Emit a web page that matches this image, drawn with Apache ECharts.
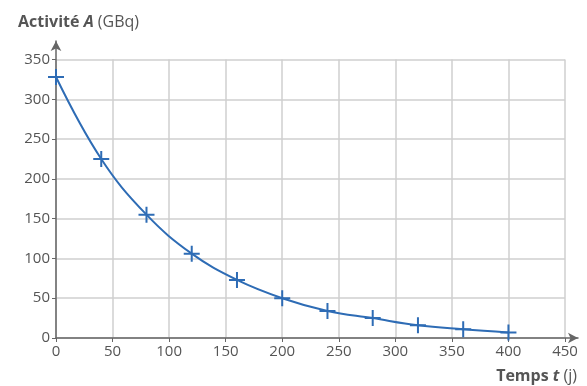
<!DOCTYPE html>
<html><head><meta charset="utf-8">
<script src="https://cdn.jsdelivr.net/npm/echarts@6/dist/echarts.min.js"></script>
<style>html,body{margin:0;padding:0;background:#fff}#c{width:587px;height:386px}</style>
</head><body><div id="c"></div>
<script>
const times = [0, 40, 80, 120, 160, 200, 240, 280, 320, 360, 400];
const activity = [328, 225, 155, 106, 73, 50, 34, 25, 16, 11, 7];
const xTicks = [0, 50, 100, 150, 200, 250, 300, 350, 400, 450];
const yTicks = [0, 50, 100, 150, 200, 250, 300, 350];

const FONT = '"Open Sans", "Noto Sans", sans-serif';
const TXT = '#555';
const chart = echarts.init(document.getElementById('c'));
const cross = 'path://M7,0h2v7h7v2h-7v7h-2v-7h-7v-2h7z';
const rich = (fs) => ({
  b: {fontWeight: 'bold', fontSize: fs, color: TXT, fontFamily: FONT},
  bi: {fontWeight: 'bold', fontStyle: 'italic', fontSize: fs, color: TXT, fontFamily: FONT},
  n: {fontSize: fs, color: TXT, fontFamily: FONT}
});

chart.setOption({
  animation: false,
  grid: [
    {left: 56, right: 22, top: 59.5, bottom: 48, containLabel: false, outerBoundsMode: 'none'},
    {left: 56, right: 9, top: 41, bottom: 48, containLabel: false, outerBoundsMode: 'none'}
  ],
  xAxis: [
    {gridIndex: 0, type: 'value', min: xTicks[0], max: xTicks[xTicks.length-1], interval: 50,
     axisLine: {show: false},
     axisTick: {show: true, length: 4, lineStyle: {color: '#666'}},
     axisLabel: {color: TXT, fontSize: 15, fontFamily: FONT, margin: 6},
     splitLine: {show: true, lineStyle: {color: '#cfcfcf', width: 1.5}}},
    {gridIndex: 1, type: 'value', min: 0, max: 1,
     axisLine: {show: true, symbol: ['none', 'arrow'], symbolSize: [8, 10], lineStyle: {color: '#666', width: 1.5}},
     axisTick: {show: false}, axisLabel: {show: false}, splitLine: {show: false},
     name: '{b|Temps }{bi|t}{n| (j)}', nameLocation: 'end', nameGap: 0,
     nameTextStyle: {align: 'right', verticalAlign: 'top', padding: [30, 1, 0, 0], rich: rich(16)}}
  ],
  yAxis: [
    {gridIndex: 0, type: 'value', min: yTicks[0], max: yTicks[yTicks.length-1], interval: 50,
     axisLine: {show: false},
     axisTick: {show: true, length: 4, lineStyle: {color: '#666'}},
     axisLabel: {color: TXT, fontSize: 15, fontFamily: FONT, margin: 6},
     splitLine: {show: true, lineStyle: {color: '#cfcfcf', width: 1.5}}},
    {gridIndex: 1, type: 'value', min: 0, max: 1,
     axisLine: {show: true, symbol: ['none', 'arrow'], symbolSize: [8, 10], lineStyle: {color: '#666', width: 1.5}},
     axisTick: {show: false}, axisLabel: {show: false}, splitLine: {show: false},
     name: '{b|Activité }{bi|A}{n| (GBq)}', nameLocation: 'end', nameGap: 11,
     nameTextStyle: {align: 'left', padding: [0, 0, 0, -38], rich: rich(16)}}
  ],
  series: [{
    type: 'line', xAxisIndex: 0, yAxisIndex: 0,
    data: times.map((t, i) => [t, activity[i]]),
    smooth: 0.4,
    symbol: cross, symbolSize: 16,
    itemStyle: {color: '#2e6cb5'},
    lineStyle: {color: '#2e6cb5', width: 2}
  }]
});
</script></body></html>
